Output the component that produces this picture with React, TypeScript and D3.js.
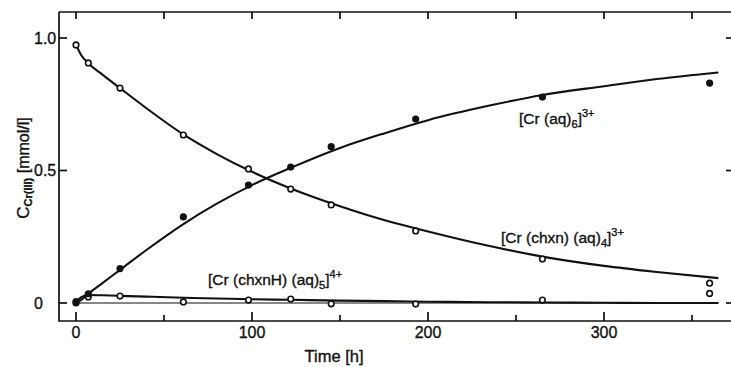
import React, {useEffect, useRef} from "react";
import * as d3 from "d3";

// measured points
const TIME = [0, 7, 25, 61, 98, 122, 145, 193, 265, 360];
const AQ6 = [0.0, 0.035, 0.13, 0.325, 0.445, 0.513, 0.59, 0.694, 0.777, 0.83];
const CHXN = [0.974, 0.906, 0.811, 0.634, 0.506, 0.43, 0.37, 0.272, 0.166, 0.075];
const CHXNH = [0.005, 0.023, 0.026, 0.004, 0.011, 0.015, -0.003, -0.004, 0.011, 0.036];

// fitted curves
const FIT_T = [0, 3, 7, 15, 25, 40, 61, 80, 100, 122, 150, 175, 200, 235, 265, 300, 330, 365];
const FIT_AQ6 = [0.0, 0.012, 0.035, 0.075, 0.125, 0.2, 0.298, 0.375, 0.445, 0.51, 0.585, 0.64, 0.69, 0.745, 0.785, 0.818, 0.845, 0.87];
const FIT_CHXN = [0.975, 0.935, 0.905, 0.862, 0.811, 0.735, 0.636, 0.562, 0.495, 0.432, 0.365, 0.313, 0.27, 0.215, 0.175, 0.14, 0.117, 0.094];
const FIT_CHXNH = [0.0, 0.022, 0.03, 0.029, 0.027, 0.024, 0.02, 0.017, 0.014, 0.012, 0.009, 0.007, 0.005, 0.003, 0.002, 0.001, 0.0, 0.0];

const X_TICKS = [0, 50, 100, 150, 200, 250, 300, 350];
const X_LABELS = [0, 100, 200, 300];
const Y_TICKS = [0, 0.5, 1.0];
const Y_LABELS = ["0", "0.5", "1.0"];

export default function App() {
    const ref = useRef<SVGSVGElement>(null);

    useEffect(() => {
        const svg = d3.select(ref.current);
        svg.selectAll("*").remove();

        const x = d3.scaleLinear().domain([0, 100]).range([76, 252]);
        const y = d3.scaleLinear().domain([0, 1]).range([303, 38]);

        const left = 59, top = 12, bottom = 321, right = 731;
        const font = "'Liberation Sans', Arial, sans-serif";
        const ink = "#111";

        // frame
        const frame = svg.append("g").attr("stroke", ink).attr("stroke-width", 1.7).attr("fill", "none");
        frame.append("path").attr("d", `M${left},${top}V${bottom}H${right}`);
        frame.append("path").attr("d", `M${left},${top}H${right}`);

        X_TICKS.forEach(t => {
            const len = t % 100 === 0 ? 9 : 6;
            frame.append("line").attr("x1", x(t)).attr("x2", x(t)).attr("y1", bottom).attr("y2", bottom - len);
            frame.append("line").attr("x1", x(t)).attr("x2", x(t)).attr("y1", top).attr("y2", top + 7);
        });
        Y_TICKS.forEach(v => {
            frame.append("line").attr("x1", left).attr("x2", left + 8).attr("y1", y(v)).attr("y2", y(v));
            frame.append("line").attr("x1", right - 5).attr("x2", right).attr("y1", y(v)).attr("y2", y(v));
        });

        const txt = (sel: any) => sel.attr("font-family", font).attr("fill", ink)
            .attr("stroke", ink).attr("stroke-width", 0.35);

        // tick labels
        X_LABELS.forEach(t => {
            txt(svg.append("text")).attr("x", x(t)).attr("y", 338).attr("text-anchor", "middle")
                .attr("font-size", 16).text(t);
        });
        Y_TICKS.forEach((v, i) => {
            txt(svg.append("text")).attr("x", 34).attr("y", y(v) + 5.5)
                .attr("font-size", 16).text(Y_LABELS[i]);
        });

        txt(svg.append("text")).attr("x", 334).attr("y", 362).attr("text-anchor", "middle")
            .attr("font-size", 16.5).text("Time [h]");

        const yl = txt(svg.append("text")).attr("transform", "translate(29,168) rotate(-90)")
            .attr("text-anchor", "middle").attr("font-size", 16);
        yl.append("tspan").attr("font-size", 17).text("C");
        yl.append("tspan").attr("font-size", 11).attr("dy", 3).attr("font-weight", "bold").text("Cr(III)");
        yl.append("tspan").attr("dy", -3).text(" [mmol/l]");

        // zero line
        svg.append("line").attr("x1", x(0)).attr("x2", x(365)).attr("y1", y(0)).attr("y2", y(0))
            .attr("stroke", ink).attr("stroke-width", 1.2);

        // fit curves
        const line = d3.line<number>()
            .x((_, i) => x(FIT_T[i]))
            .y(d => y(d))
            .curve(d3.curveMonotoneX);
        [FIT_AQ6, FIT_CHXN, FIT_CHXNH].forEach(s => {
            svg.append("path").attr("d", line(s)).attr("fill", "none")
                .attr("stroke", ink).attr("stroke-width", 2.1);
        });

        // markers
        const dots = svg.append("g");
        TIME.forEach((t, i) => {
            dots.append("circle").attr("cx", x(t)).attr("cy", y(CHXNH[i])).attr("r", 2.8)
                .attr("fill", "#fff").attr("stroke", ink).attr("stroke-width", 1.6);
            dots.append("circle").attr("cx", x(t)).attr("cy", y(CHXN[i])).attr("r", 2.8)
                .attr("fill", "#fff").attr("stroke", ink).attr("stroke-width", 1.6);
            dots.append("circle").attr("cx", x(t)).attr("cy", y(AQ6[i])).attr("r", 3.6)
                .attr("fill", ink);
        });

        // series labels
        const label = (px: number, py: number, parts: [string, string][]) => {
            const tx = txt(svg.append("text")).attr("x", px).attr("y", py).attr("font-size", 15.5);
            let shift = 0;
            parts.forEach(([s, kind]) => {
                const target = kind === "sub" ? 4 : kind === "sup" ? -7 : 0;
                const sp = tx.append("tspan").attr("dy", target - shift).text(s);
                if (kind !== "n") sp.attr("font-size", 11);
                shift = target;
            });
        };
        label(519, 124, [["[Cr (aq)", "n"], ["6", "sub"], ["]", "n"], ["3+", "sup"]]);
        label(501, 243, [["[Cr (chxn) (aq)", "n"], ["4", "sub"], ["]", "n"], ["3+", "sup"]]);
        label(208, 285, [["[Cr (chxnH) (aq)", "n"], ["5", "sub"], ["]", "n"], ["4+", "sup"]]);
    }, []);

    return <div style={{position: "absolute", left: 0, top: 0}}>
        <svg ref={ref} width={731} height={367} style={{display: "block", background: "#fff"}}></svg>
    </div>;
}
